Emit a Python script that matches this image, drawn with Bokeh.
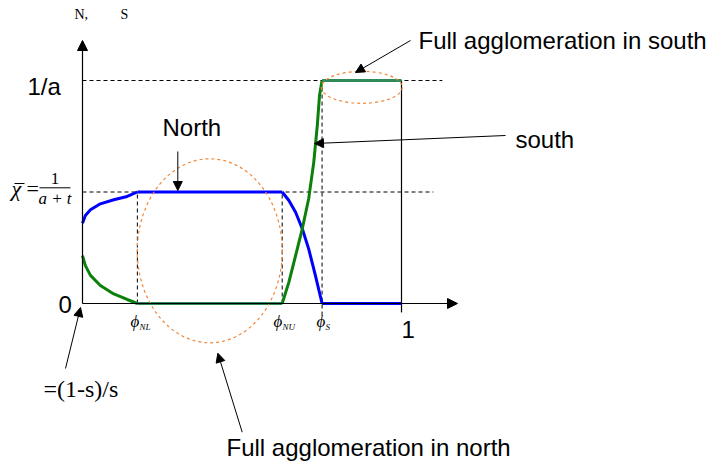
from bokeh.plotting import figure
from bokeh.models import Range1d, Arrow, NormalHead, Label
from bokeh.embed import file_html
from bokeh.resources import INLINE

# ---- data (units: x in share of [0,1], y with 1/a = 1) ----
phi_NL = 0.172
phi_NU = 0.626
phi_S = 0.751
chi_bar = 0.5
inv_a = 1.0

left_x = [0.0, 0.009, 0.025, 0.056, 0.098, 0.140, 0.172]
north_left_y = [0.36, 0.395, 0.42, 0.447, 0.465, 0.480, 0.5]
south_left_y = [0.215, 0.170, 0.126, 0.081, 0.043, 0.018, 0.0]

north_fall_x = [0.626, 0.647, 0.668, 0.689, 0.709, 0.730, 0.751]
north_fall_y = [0.5, 0.462, 0.409, 0.335, 0.245, 0.126, 0.0]

south_rise_x = [0.626, 0.647, 0.668, 0.689, 0.709, 0.725, 0.736, 0.743, 0.751]
south_rise_y = [0.0, 0.096, 0.215, 0.335, 0.470, 0.634, 0.798, 0.933, 1.0]

x_ticks = ["\u03d5", "\u03d5", "\u03d5"]
x_subs = ["NL", "NU", "S"]

SANS = "Liberation Sans"
SERIF = "Liberation Serif"

W, H = 709, 466

# pixel (image) -> data helpers for annotation placement
def dx(X):
    return (X - 82) / 319.0

def dy(Y):
    return (303 - Y) / 223.0

XS = -82 / 319.0
XE = XS + W / 319.0
YE = 1 + 80 / 223.0
YS = YE - H / 223.0

p = figure(width=W, height=H, x_range=Range1d(XS, XE), y_range=Range1d(YS, YE),
           toolbar_location=None, output_backend="svg", min_border=0,
           x_axis_location=None, y_axis_location=None)
p.grid.visible = False
p.outline_line_color = None
p.background_fill_color = "white"
p.border_fill_color = "white"

BLUE = "#0000FF"
GREEN = "#0B800B"
SEAGREEN = "#2E8B57"
ORANGE = "#F0883A"
LW = 3

# dashed guide lines
dash = dict(line_color="black", line_width=1, line_dash="4 3")
p.line([0, 1.10], [chi_bar, chi_bar], **dash)
p.line([0, 1.128], [inv_a, inv_a], **dash)
p.line([phi_NL, phi_NL], [0, chi_bar], **dash)
p.line([phi_NU, phi_NU], [0, chi_bar], **dash)
p.line([phi_S, phi_S], [-0.054, inv_a], **dash)

# solid vertical at x = 1
p.line([1, 1], [-0.04, inv_a], line_color="black", line_width=1.2)

# curves
p.line(left_x, north_left_y, line_color=BLUE, line_width=LW)
p.line(left_x, south_left_y, line_color=GREEN, line_width=LW)
p.line([phi_NL, phi_NU], [chi_bar, chi_bar], line_color=BLUE, line_width=LW)
p.line([phi_NL, phi_NU], [0, 0], line_color=SEAGREEN, line_width=LW)
p.line(north_fall_x, north_fall_y, line_color=BLUE, line_width=LW)
p.line(south_rise_x, south_rise_y, line_color=GREEN, line_width=LW)
p.line([phi_S, 1], [0, 0], line_color=BLUE, line_width=LW)
p.line([phi_S, 1], [inv_a, inv_a], line_color=SEAGREEN, line_width=LW)

# ellipses
p.ellipse(x=[(phi_NL + phi_NU) / 2], y=[dy(250.3)], width=[145 / 319.0], height=[184 / 223.0],
          fill_color=None, line_color=ORANGE, line_width=1.2, line_dash="3 3")
p.ellipse(x=[(phi_S + 1) / 2], y=[dy(86.8)], width=[81 / 319.0], height=[32 / 223.0],
          fill_color=None, line_color=ORANGE, line_width=1.2, line_dash="3 3")

# axes with arrows
p.add_layout(Arrow(end=NormalHead(size=10, fill_color="black", line_color="black"),
                   x_start=0, y_start=0, x_end=0, y_end=dy(40), line_color="black", line_width=1.2))
p.add_layout(Arrow(end=NormalHead(size=10, fill_color="black", line_color="black"),
                   x_start=0, y_start=0, x_end=dx(457), y_end=0, line_color="black", line_width=1.2))

# annotation arrows
def arrow(X0, Y0, X1, Y1):
    p.add_layout(Arrow(end=NormalHead(size=9, fill_color="black", line_color="black"),
                       x_start=dx(X0), y_start=dy(Y0), x_end=dx(X1), y_end=dy(Y1),
                       line_color="black", line_width=1))

arrow(65, 368, 80, 307)
arrow(177.3, 151, 177.3, 190)
arrow(241.7, 431.7, 217.3, 352.7)
arrow(505, 135, 314, 143)
arrow(410, 40, 355, 72)

def lab(text, X, Y, size, font=SANS, style="normal", align="left"):
    Yc = Y - 0.35 * size
    p.add_layout(Label(x=dx(X), y=dy(Yc), text=text, text_font=font, text_font_size=f"{size}px",
                       text_font_style=style, text_align=align, text_baseline="alphabetic",
                       text_color="black"))

lab("Full agglomeration in south", 418, 48, 24)
lab("south", 515, 147, 24)
lab("North", 162, 135, 24)
lab("Full agglomeration in north", 226, 455, 24)
lab("1/a", 27, 94, 24)
lab("0", 58, 312, 24)
lab("1", 401, 337, 24)
lab("=(1-s)/s", 43, 397, 24, font=SERIF)
lab("N,", 74, 19, 14, font=SERIF)
lab("S", 120, 19, 14, font=SERIF)

# phi tick labels
phi_left = [130, 273, 316]
for sym, sub, X in zip(x_ticks, x_subs, phi_left):
    lab(sym, X, 327, 17, font=SERIF, style="italic")
    lab(sub, X + 9, 329.5, 9, font=SERIF, style="italic")

# chi bar label
lab("\u03c7", 11, 196, 22, font=SERIF, style="italic")
p.line([dx(14), dx(24)], [dy(183), dy(183)], line_color="black", line_width=1)
lab("=", 26, 196, 22, font=SERIF)
lab("1", 54.5, 184, 17, font=SERIF, align="center")
p.line([dx(39), dx(70)], [dy(187.3), dy(187.3)], line_color="black", line_width=1)
lab("a + t", 54.5, 203.5, 17, font=SERIF, style="italic", align="center")

open("out.html", "w").write(file_html(p, INLINE))
